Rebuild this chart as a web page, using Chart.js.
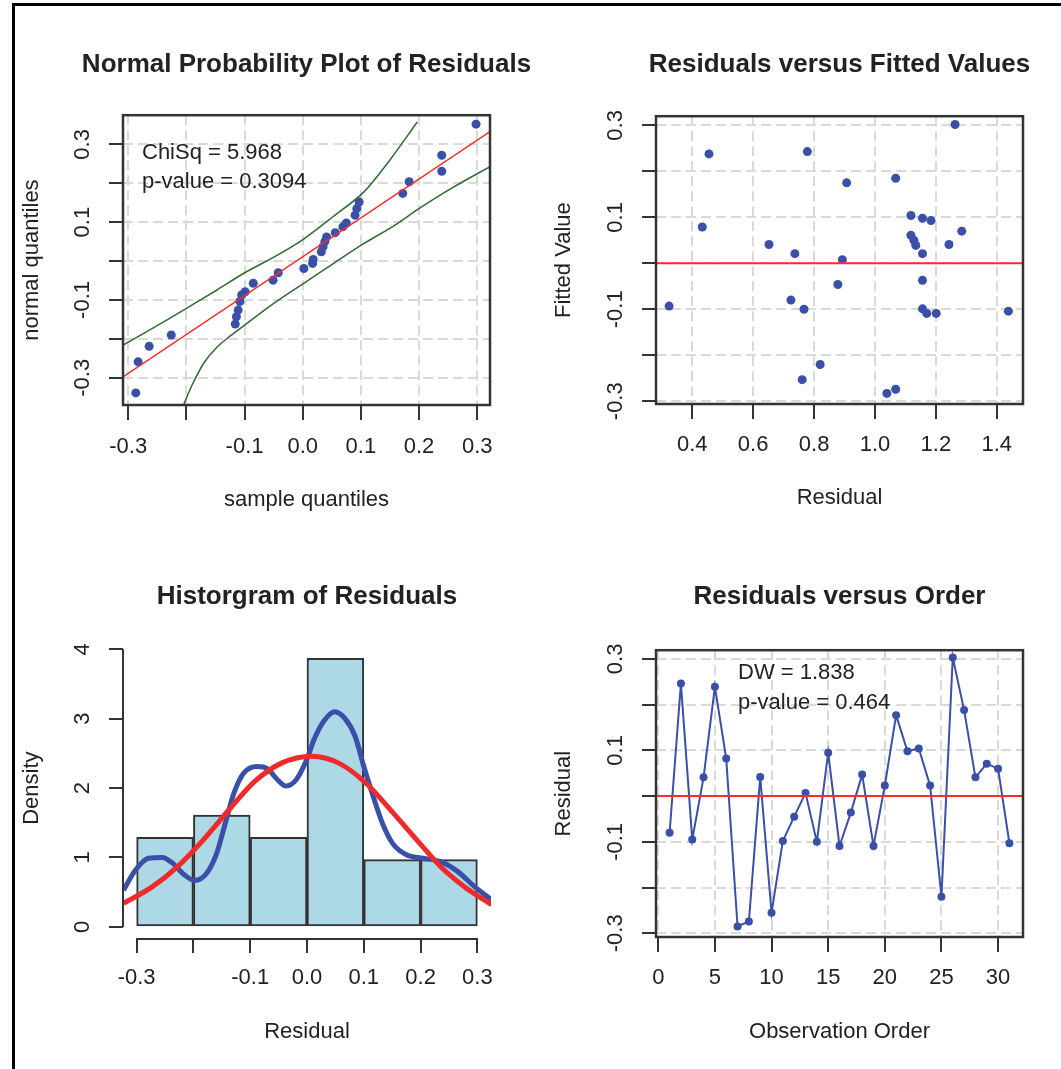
<!DOCTYPE html>
<html>
<head>
<meta charset="utf-8">
<script src="https://cdn.jsdelivr.net/npm/chart.js@4.4.0/dist/chart.umd.min.js"></script>
<style>
  body { margin: 0; background: #fff; }
  #page { position: relative; width: 1061px; height: 1069px; overflow: hidden; }
  #frame { position: absolute; left: 12px; top: 3px; width: 1100px; height: 1100px;
           border-top: 3px solid #000; border-left: 3px solid #000; }
  canvas { position: absolute; }
</style>
</head>
<body>
<div id="page">
  <div id="frame"></div>
  <canvas id="qq" width="613" height="530" style="left:0;top:0"></canvas>
  <canvas id="fit" width="619" height="530" style="left:530px;top:0"></canvas>
  <canvas id="hist" width="614" height="539" style="left:0;top:530px"></canvas>
  <canvas id="order" width="619" height="539" style="left:530px;top:530px"></canvas>
</div>
<script>
// Normal probability plot
const qqSample = [-0.287, -0.283, -0.264, -0.226, -0.116, -0.114, -0.111, -0.108, -0.105, -0.099,
  -0.085, -0.051, -0.042, 0.002, 0.017, 0.018, 0.032, 0.035, 0.038, 0.041,
  0.056, 0.069, 0.075, 0.090, 0.093, 0.097, 0.172, 0.183, 0.239, 0.239, 0.298];
const qqNormal = [-0.339, -0.259, -0.219, -0.190, -0.162, -0.143, -0.126, -0.104, -0.087, -0.079,
  -0.057, -0.049, -0.030, -0.019, -0.006, 0.004, 0.024, 0.037, 0.050, 0.062,
  0.073, 0.088, 0.098, 0.118, 0.135, 0.152, 0.174, 0.204, 0.231, 0.272, 0.352];
const qqLineX = [-0.309, 0.322];
const qqLineY = [-0.298, 0.333];
const upperX = [-0.309, -0.263, -0.205, -0.148, -0.102, -0.045, 0.001, 0.052, 0.104, 0.150, 0.179, 0.197];
const upperY = [-0.216, -0.177, -0.126, -0.075, -0.032, 0.014, 0.056, 0.114, 0.176, 0.260, 0.320, 0.358];
const lowerX = [-0.205, -0.190, -0.170, -0.148, -0.125, -0.102, -0.051, 0.001, 0.052, 0.104, 0.156, 0.201, 0.259, 0.322];
const lowerY = [-0.370, -0.318, -0.262, -0.222, -0.193, -0.167, -0.110, -0.058, -0.007, 0.044, 0.090, 0.136, 0.190, 0.243];
const chiText = ['ChiSq = 5.968', 'p-value = 0.3094'];

// Residuals versus fitted values
const rfResidual = [0.324, 0.433, 0.455, 0.652, 0.724, 0.737, 0.761, 0.767, 0.778, 0.820, 0.878,
  0.893, 0.907, 1.039, 1.068, 1.068, 1.118, 1.118, 1.128, 1.134, 1.156, 1.156, 1.156, 1.184,
  1.156, 1.170, 1.201, 1.243, 1.263, 1.285, 1.438];
const rfFitted = [-0.093, 0.079, 0.238, 0.041, -0.080, 0.021, -0.253, -0.100, 0.243, -0.220, -0.046,
  0.008, 0.175, -0.283, -0.274, 0.185, 0.104, 0.061, 0.050, 0.039, 0.021, -0.037, 0.098, 0.093,
  -0.099, -0.109, -0.109, 0.041, 0.302, 0.070, -0.104];

// Histogram
const histMid = [-0.25, -0.15, -0.05, 0.05, 0.15, 0.25];
const histDensity = [1.29, 1.61, 1.29, 3.87, 0.97, 0.97];
const kdeX = [-0.323, -0.302, -0.279, -0.255, -0.237, -0.216, -0.198, -0.177, -0.159, -0.144, -0.129,
  -0.112, -0.088, -0.070, -0.052, -0.037, -0.019, -0.001, 0.013, 0.031, 0.049, 0.067, 0.085,
  0.100, 0.115, 0.133, 0.151, 0.175, 0.205, 0.235, 0.265, 0.295, 0.325];
const kdeY = [0.53, 0.82, 0.99, 1.00, 0.92, 0.75, 0.67, 0.77, 1.06, 1.49, 1.92, 2.21, 2.31, 2.28, 2.12,
  2.03, 2.12, 2.40, 2.71, 2.98, 3.10, 3.00, 2.74, 2.31, 1.92, 1.49, 1.20, 1.04, 0.99, 0.94, 0.80,
  0.58, 0.39];
const normX = [-0.323, -0.272, -0.225, -0.183, -0.135, -0.093, -0.045, 0.008, 0.056, 0.104, 0.152,
  0.199, 0.235, 0.277, 0.325];
const normY = [0.34, 0.58, 0.89, 1.25, 1.71, 2.09, 2.36, 2.46, 2.36, 2.07, 1.64, 1.20, 0.87, 0.58, 0.32];

// Residuals versus order
const orderResid = [-0.080, 0.246, -0.095, 0.041, 0.239, 0.082, -0.285, -0.274, 0.042, -0.255, -0.098,
  -0.045, 0.007, -0.100, 0.095, -0.109, -0.036, 0.047, -0.109, 0.023, 0.177, 0.098, 0.104, 0.023,
  -0.220, 0.303, 0.188, 0.041, 0.071, 0.060, -0.103];
const dwText = ['DW = 1.838', 'p-value = 0.464'];

// ticks
const qTicks = [-0.3, -0.2, -0.1, 0, 0.1, 0.2, 0.3];
const qLabels = ['-0.3', '', '-0.1', '0.0', '0.1', '0.2', '0.3'];
const rLabels = ['-0.3', '', '-0.1', '', '0.1', '', '0.3'];
const fitTicks = [0.4, 0.6, 0.8, 1.0, 1.2, 1.4];
const fitLabels = ['0.4', '0.6', '0.8', '1.0', '1.2', '1.4'];
const densTicks = [0, 1, 2, 3, 4];
const densLabels = ['0', '1', '2', '3', '4'];
const orderTicks = [0, 5, 10, 15, 20, 25, 30];
const orderLabels = ['0', '5', '10', '15', '20', '25', '30'];

Chart.defaults.font.family = '"Liberation Sans", Arial, sans-serif';
Chart.defaults.color = '#222';

const BLUE = '#3a4fa8';
const GRID = '#d9d9d9';
const INK = '#333';

const pts = (xs, ys) => xs.map((x, i) => ({x: x, y: ys[i]}));

function xAxis(min, max, ticks, labels, title, height, pad, titlePad, grid) {
  return {
    type: 'linear', min: min, max: max, offset: false,
    afterBuildTicks: s => { s.ticks = ticks.map(v => ({value: v})); },
    afterFit: s => { s.height = height; },
    grid: { display: true, offset: false, drawOnChartArea: grid, color: GRID, lineWidth: 2,
            tickLength: 15, tickColor: INK, tickWidth: 2 },
    border: { display: false, dash: [10, 5] },
    ticks: { autoSkip: false, maxRotation: 0, padding: pad, font: {size: 22},
             callback: (v, i) => labels[i] },
    title: { display: true, text: title, font: {size: 22}, padding: {top: 0, bottom: titlePad} }
  };
}

function yAxis(min, max, ticks, labels, title, width, pad, titlePad, grid) {
  return {
    type: 'linear', min: min, max: max,
    afterBuildTicks: s => { s.ticks = ticks.map(v => ({value: v})); },
    afterFit: s => { s.width = width; },
    grid: { display: true, drawOnChartArea: grid, color: GRID, lineWidth: 2,
            tickLength: 14, tickColor: INK, tickWidth: 2 },
    border: { display: false, dash: [10, 5] },
    ticks: { autoSkip: false, minRotation: 90, maxRotation: 90, crossAlign: 'center',
             padding: pad, font: {size: 22}, callback: (v, i) => labels[i] },
    title: { display: true, text: title, font: {size: 22}, padding: {top: titlePad, bottom: 0} }
  };
}

// empty right-hand box so the full-width title sits centred over the plot
function spacer(width) {
  return {
    type: 'linear', position: 'right', display: true,
    afterFit: s => { s.width = width; },
    grid: { display: false }, border: { display: false }, ticks: { display: false }
  };
}

function titleOpts(text, top, bottom) {
  return { display: true, text: text, color: '#222',
           font: {size: 26, weight: 'bold'}, padding: {top: top, bottom: bottom} };
}

const boxPlugin = {
  id: 'box',
  afterDraw(chart) {
    const {ctx, chartArea: a} = chart;
    ctx.save();
    ctx.strokeStyle = INK;
    ctx.lineWidth = 2.5;
    ctx.strokeRect(a.left, a.top, a.right - a.left, a.bottom - a.top);
    ctx.restore();
  }
};

const zeroLine = {
  id: 'zeroLine',
  afterDatasetsDraw(chart) {
    const {ctx, chartArea: a} = chart;
    const y = chart.scales.y.getPixelForValue(0);
    ctx.save();
    ctx.strokeStyle = '#ff2a2a';
    ctx.lineWidth = 2;
    ctx.beginPath();
    ctx.moveTo(a.left, y);
    ctx.lineTo(a.right, y);
    ctx.stroke();
    ctx.restore();
  }
};

function notes(lines, dx, dy, step) {
  return {
    id: 'notes',
    afterDatasetsDraw(chart) {
      const {ctx, chartArea: a} = chart;
      ctx.save();
      ctx.font = '22px "Liberation Sans", Arial, sans-serif';
      ctx.fillStyle = '#222';
      ctx.textBaseline = 'middle';
      lines.forEach((t, i) => ctx.fillText(t, a.left + dx, a.top + dy + i * step));
      ctx.restore();
    }
  };
}

const base = {
  responsive: false,
  animation: false,
  devicePixelRatio: 1,
  events: [],
  layout: { padding: 0 }
};

// 1. Normal probability plot
new Chart(document.getElementById('qq'), {
  type: 'scatter',
  data: {
    datasets: [
      { data: pts(upperX, upperY), showLine: true, borderColor: '#2f6b2f', borderWidth: 1.5,
        pointRadius: 0, tension: 0.3 },
      { data: pts(lowerX, lowerY), showLine: true, borderColor: '#2f6b2f', borderWidth: 1.5,
        pointRadius: 0, tension: 0.3 },
      { data: pts(qqLineX, qqLineY), showLine: true, borderColor: '#f03030', borderWidth: 1.5,
        pointRadius: 0 },
      { data: pts(qqSample, qqNormal), pointRadius: 4.5, pointBackgroundColor: BLUE,
        pointBorderWidth: 0 }
    ]
  },
  options: Object.assign({}, base, {
    plugins: { legend: {display: false}, tooltip: {enabled: false},
               title: titleOpts('Normal Probability Plot of Residuals', 49, 35) },
    scales: {
      x: xAxis(-0.309, 0.322, qTicks, qLabels, 'sample quantiles', 125, 13.8, 16.8, true),
      y: yAxis(-0.370, 0.375, qTicks, rLabels, 'normal quantiles', 123, 7, 18.8, true),
      r: spacer(123)
    }
  }),
  plugins: [boxPlugin, notes(chiText, 19, 38, 29)]
});

// 2. Residuals versus fitted values
new Chart(document.getElementById('fit'), {
  type: 'scatter',
  data: {
    datasets: [
      { data: pts(rfResidual, rfFitted), pointRadius: 4.5, pointBackgroundColor: BLUE,
        pointBorderWidth: 0 }
    ]
  },
  options: Object.assign({}, base, {
    plugins: { legend: {display: false}, tooltip: {enabled: false},
               title: titleOpts('Residuals versus Fitted Values', 49, 36) },
    scales: {
      x: xAxis(0.281, 1.486, fitTicks, fitLabels, 'Residual', 126, 12.8, 18.8, true),
      y: yAxis(-0.306, 0.320, qTicks, rLabels, 'Fitted Value', 126, 7, 20.6, true),
      r: spacer(126)
    }
  }),
  plugins: [zeroLine, boxPlugin]
});

// 3. Histogram of residuals
const histAxes = {
  id: 'histAxes',
  afterDraw(chart) {
    const {ctx, chartArea: a, scales} = chart;
    ctx.save();
    ctx.strokeStyle = INK;
    ctx.lineWidth = 2;
    ctx.beginPath();
    ctx.moveTo(a.left, scales.y.getPixelForValue(densTicks[0]));
    ctx.lineTo(a.left, scales.y.getPixelForValue(densTicks[densTicks.length - 1]));
    ctx.stroke();
    ctx.beginPath();
    ctx.moveTo(scales.x.getPixelForValue(qTicks[0]), a.bottom + 1);
    ctx.lineTo(scales.x.getPixelForValue(qTicks[qTicks.length - 1]), a.bottom + 1);
    ctx.stroke();
    ctx.restore();
  }
};

new Chart(document.getElementById('hist'), {
  type: 'bar',
  data: {
    datasets: [
      { type: 'line', data: pts(normX, normY), borderColor: '#ee2a2a', borderWidth: 5,
        pointRadius: 0, cubicInterpolationMode: 'monotone', order: 1 },
      { type: 'line', data: pts(kdeX, kdeY), borderColor: BLUE, borderWidth: 5,
        pointRadius: 0, cubicInterpolationMode: 'monotone', order: 2 },
      { type: 'bar', data: pts(histMid, histDensity), backgroundColor: '#add8e6',
        borderColor: INK, borderWidth: 2, borderSkipped: false,
        barPercentage: 1, categoryPercentage: 1, order: 3 }
    ]
  },
  options: Object.assign({}, base, {
    plugins: { legend: {display: false}, tooltip: {enabled: false},
               title: titleOpts('Historgram of Residuals', 51, 26) },
    scales: {
      x: xAxis(-0.324, 0.324, qTicks, qLabels, 'Residual', 131, 11.8, 24.1, false),
      y: yAxis(-0.16, 4.16, densTicks, densLabels, 'Density', 123, 19.9, 18.8, false),
      r: spacer(123)
    }
  }),
  plugins: [histAxes]
});

// 4. Residuals versus order
new Chart(document.getElementById('order'), {
  type: 'scatter',
  data: {
    datasets: [
      { data: orderResid.map((y, i) => ({x: i + 1, y: y})), showLine: true,
        borderColor: BLUE, borderWidth: 2, pointRadius: 4, pointBackgroundColor: BLUE,
        pointBorderWidth: 0 }
    ]
  },
  options: Object.assign({}, base, {
    plugins: { legend: {display: false}, tooltip: {enabled: false},
               title: titleOpts('Residuals versus Order', 51, 38) },
    scales: {
      x: xAxis(-0.2, 32.2, orderTicks, orderLabels, 'Observation Order', 132, 12.8, 23.8, true),
      y: yAxis(-0.308, 0.319, qTicks, rLabels, 'Residual', 126, 7, 20.8, true),
      r: spacer(126)
    }
  }),
  plugins: [zeroLine, boxPlugin, notes(dwText, 82, 23, 30)]
});
</script>
</body>
</html>
